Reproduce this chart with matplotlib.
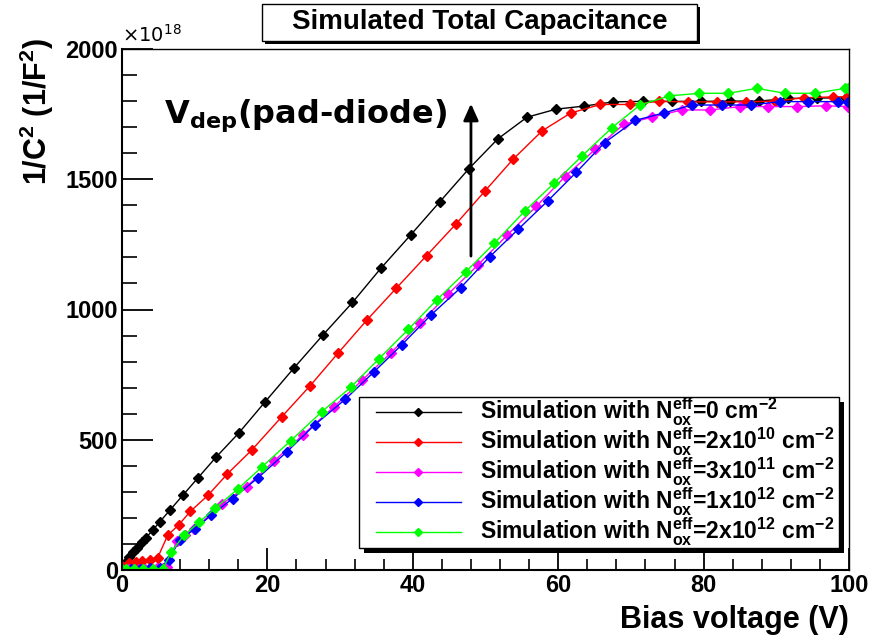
import matplotlib
matplotlib.use("Agg")
import matplotlib.pyplot as plt
from matplotlib.patches import Rectangle
from matplotlib.lines import Line2D
from matplotlib.ticker import MultipleLocator

plt.rcParams['font.family'] = ['Liberation Sans', 'DejaVu Sans']
plt.rcParams['mathtext.fontset'] = 'custom'
plt.rcParams['mathtext.rm'] = 'Liberation Sans:bold'
plt.rcParams['mathtext.it'] = 'Liberation Sans:bold'
plt.rcParams['mathtext.bf'] = 'Liberation Sans:bold'

# ---------------- data (1/C^2 in units of 1e18 F^-2) ----------------
x_black = [0, 0.5, 1.0, 1.5, 2.0, 2.7, 3.3, 4.2, 5.2, 6.6, 8.4, 10.4, 12.9, 16.1, 19.7, 23.7,
           27.7, 31.7, 35.6, 39.7, 43.7, 47.7, 51.7, 55.7, 59.7, 63.6, 67.6, 71.6, 75.6, 79.6,
           83.6, 87.6, 91.6, 95.6, 99.6]
y_black = [15, 32, 50, 68, 85, 108, 124, 152, 185, 230, 288, 352, 432, 527, 646, 777,
           904, 1027, 1158, 1286, 1413, 1540, 1655, 1738, 1769, 1781, 1797, 1799, 1799, 1799,
           1800, 1800, 1810, 1812, 1812]

x_red = [0, 0.9, 1.9, 2.8, 3.8, 4.9, 6.3, 7.8, 9.4, 11.8, 14.5, 17.9, 22.0, 25.9, 29.7, 33.7,
         37.7, 41.9, 45.9, 49.9, 53.8, 57.8, 61.7, 65.8, 69.9, 73.9, 77.9, 81.8, 85.8, 89.8,
         93.8, 97.8, 99.7]
y_red = [16, 26, 32, 36, 40, 47, 134, 173, 225, 286, 369, 462, 589, 708, 832, 960,
         1081, 1207, 1327, 1454, 1577, 1686, 1754, 1787, 1787, 1799, 1797, 1797, 1797, 1800,
         1813, 1816, 1817]

x_mag = [0, 0.8, 1.6, 2.4, 3.2, 4.0, 4.8, 5.6, 6.2, 7.5, 8.6, 9.95, 13.7, 17.15, 20.9, 24.85,
         29.1, 33.05, 37.0, 41.0, 44.9, 49.0, 53.0, 57.0, 61.0, 65.1, 69.0, 72.9, 77.0, 80.9,
         85.0, 88.9, 92.9, 96.9, 99.9]
y_mag = [4, 4, 4, 5, 5, 5, 6, 8, 12, 110, 134, 157, 253, 320, 418, 518,
         625, 729, 834, 947, 1060, 1172, 1286, 1396, 1512, 1615, 1711, 1738, 1766, 1766,
         1779, 1779, 1779, 1782, 1779]

x_blue = [0, 1.2, 2.5, 3.9, 5.2, 6.4, 8.0, 10.0, 12.3, 15.2, 18.75, 22.65, 26.5, 30.7, 34.6,
          38.5, 42.5, 46.6, 50.6, 54.5, 58.6, 62.5, 66.4, 70.6, 74.6, 78.4, 82.5, 86.5, 90.5,
          94.4, 98.5, 99.9]
y_blue = [5, 5, 5, 6, 7, 40, 117, 157, 211, 274, 355, 453, 557, 655, 759,
          865, 979, 1084, 1203, 1308, 1418, 1527, 1641, 1726, 1755, 1785, 1785, 1785, 1798,
          1798, 1798, 1798]

x_green = [0, 0.6, 1.6, 2.9, 4.3, 5.6, 6.8, 8.5, 10.6, 12.8, 15.9, 19.3, 23.2, 27.5, 31.5,
           35.35, 39.4, 43.3, 47.3, 51.2, 55.4, 59.4, 63.3, 67.4, 71.25, 75.3, 79.4, 83.4,
           87.3, 91.2, 95.3, 99.45, 99.9]
y_green = [5, 4, 4, 4, 4, 5, 69, 133, 183, 237, 310, 397, 496, 608, 702,
           811, 924, 1037, 1145, 1254, 1378, 1484, 1590, 1698, 1785, 1820, 1830, 1830,
           1849, 1830, 1830, 1849, 1849]

labels = [r"Simulation with N$_{ox}^{eff}$=0 cm$^{-2}$",
          r"Simulation with N$_{ox}^{eff}$=2x10$^{10}$ cm$^{-2}$",
          r"Simulation with N$_{ox}^{eff}$=3x10$^{11}$ cm$^{-2}$",
          r"Simulation with N$_{ox}^{eff}$=1x10$^{12}$ cm$^{-2}$",
          r"Simulation with N$_{ox}^{eff}$=2x10$^{12}$ cm$^{-2}$"]
colors = ['#000000', '#ff0000', '#ff00ff', '#0000ff', '#00ff00']
series = [(x_black, y_black), (x_red, y_red), (x_mag, y_mag), (x_blue, y_blue), (x_green, y_green)]

# ---------------- figure ----------------
W, H = 882, 636
fig = plt.figure(figsize=(W / 100, H / 100), dpi=100)


def fx(px):
    return px / W


def fy(py):
    return 1 - py / H


def add_box(x0, y0, x1, y1, shadow, z):
    # pixel coords measured from the top-left corner
    fig.patches.append(Rectangle((fx(x0 + shadow), fy(y1 + shadow)), fx(x1 - x0), (y1 - y0) / H,
                                 transform=fig.transFigure, facecolor='black',
                                 edgecolor='none', zorder=z))
    fig.patches.append(Rectangle((fx(x0), fy(y1)), fx(x1 - x0), (y1 - y0) / H,
                                 transform=fig.transFigure, facecolor='white',
                                 edgecolor='black', lw=1.0, zorder=z + 0.1))


ax = fig.add_axes([fx(122), fy(570), fx(849 - 122), (570 - 49) / H])

for (xs, ys), c, lab in zip(series, colors, labels):
    ax.plot(xs, ys, color=c, lw=1.0, marker='D', ms=4.8, mec=c, mfc=c, label=lab)

ax.set_xlim(0, 100)
ax.set_ylim(0, 2000)
ax.xaxis.set_major_locator(MultipleLocator(20))
ax.xaxis.set_minor_locator(MultipleLocator(4))
ax.yaxis.set_major_locator(MultipleLocator(500))
ax.yaxis.set_minor_locator(MultipleLocator(100))
ax.tick_params(axis='x', which='major', direction='in', length=16, width=1.3,
               labelsize=17, pad=3, top=False)
ax.tick_params(axis='x', which='minor', direction='in', length=8, width=1.2, top=False)
ax.tick_params(axis='y', which='major', direction='in', length=22, width=1.3,
               labelsize=17, pad=3, right=False)
ax.tick_params(axis='y', which='minor', direction='in', length=11, width=1.2, right=False)
for lbl in ax.get_xticklabels() + ax.get_yticklabels():
    lbl.set_fontweight('bold')
ax.spines['left'].set_linewidth(1.5)
ax.spines['bottom'].set_linewidth(1.5)
ax.spines['top'].set_linewidth(1.0)
ax.spines['right'].set_linewidth(1.0)

# axis titles
fig.text(fx(849), fy(620), "Bias voltage (V)", ha='right', va='center',
         fontsize=22, fontweight='bold')
fig.text(fx(37), fy(38), r"1/C$^{2}$ (1/F$^{2}$)", ha='center', va='top',
         rotation=90, fontsize=22, fontweight='bold')
fig.text(fx(122), fy(46), r"$\times$10$^{18}$", ha='left', va='bottom',
         fontsize=14, family=['DejaVu Sans'], math_fontfamily='dejavusans')

# title box with shadow
add_box(262, 4, 697, 40.5, 3, 1)
fig.text(fx((262 + 697) / 2), fy(22), "Simulated Total Capacitance",
         ha='center', va='center', fontsize=20, fontweight='bold', zorder=3)

# V_dep annotation and arrow
ax.text(5.8, 1745, r"V$_{\mathbf{dep}}$(pad-diode)", fontsize=23, fontweight='bold',
        ha='left', va='center', family=['DejaVu Sans'], math_fontfamily='dejavusans')
ax.annotate("", xy=(48.0, 1790), xytext=(48.0, 1205),
            arrowprops=dict(arrowstyle='-|>,head_length=1.0,head_width=0.45',
                            color='black', lw=2.0, shrinkA=0, shrinkB=0))

# legend (ROOT style box with shadow)
add_box(359, 397, 839, 548, 5, 5)
row_y = [411.7, 441.5, 471.5, 502.0, 532.0]
for c, lab, ry in zip(colors, labels, row_y):
    fig.add_artist(Line2D([fx(376), fx(461)], [fy(ry), fy(ry)], transform=fig.transFigure,
                          color=c, lw=1.0, zorder=6))
    fig.add_artist(Line2D([fx(418)], [fy(ry)], transform=fig.transFigure, color=c,
                          marker='D', ms=4.0, mec=c, mfc=c, lw=0, zorder=6))
    fig.text(fx(480), fy(ry), lab, ha='left', va='center', fontsize=16.5,
             fontweight='bold', zorder=7)

fig.savefig("out.png", dpi=100)
